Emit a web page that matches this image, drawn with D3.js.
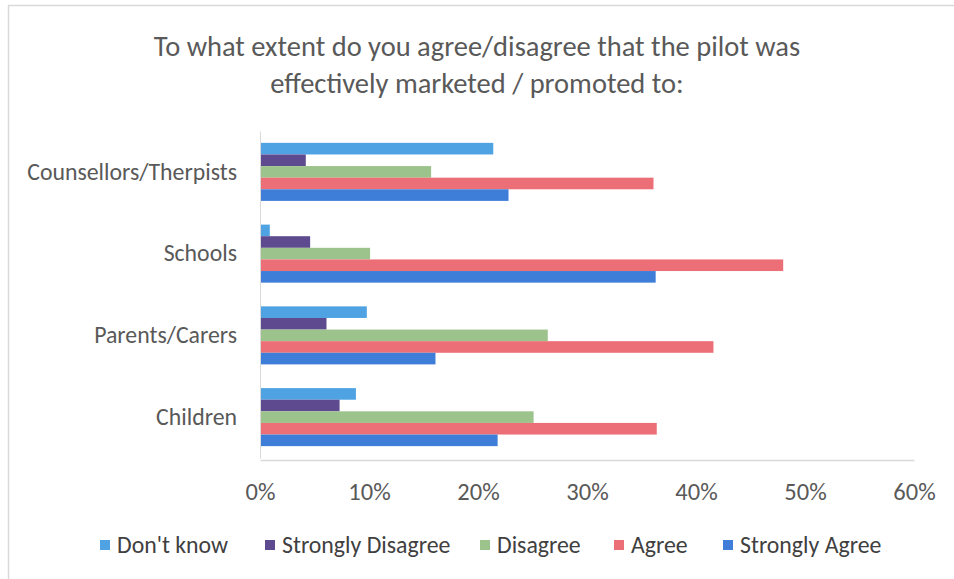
<!DOCTYPE html>
<html>
<head>
<meta charset="utf-8">
<script src="https://cdn.jsdelivr.net/npm/d3@7"></script>
<style>
  html, body { margin: 0; padding: 0; background: #fff; }
  svg { display: block; }
  text { font-family: Carlito, Calibri, "Open Sans", sans-serif; fill: #595959; }
</style>
</head>
<body>
<svg id="chart" width="954" height="579"></svg>
<script>
// Survey responses, share of respondents per answer
const categories = ["Counsellors/Therpists", "Schools", "Parents/Carers", "Children"];
const seriesNames = ["Don't know", "Strongly Disagree", "Disagree", "Agree", "Strongly Agree"];
const seriesColors = ["#4FA3E2", "#5E4A8E", "#9CC38C", "#EC6F78", "#3F7ED8"];
const dontKnow        = [21.4, 0.9, 9.8, 8.8];
const stronglyDisagree = [4.2, 4.6, 6.1, 7.3];
const disagree        = [15.7, 10.1, 26.4, 25.1];
const agree           = [36.1, 48.0, 41.6, 36.4];
const stronglyAgree   = [22.8, 36.3, 16.1, 21.8];
const xTicks = [0, 10, 20, 30, 40, 50, 60];
const titleLines = ["To what extent do you agree/disagree that the pilot was",
                    "effectively marketed / promoted to:"];

const seriesValues = [dontKnow, stronglyDisagree, disagree, agree, stronglyAgree];
const rows = [];
categories.forEach((c, i) => {
  seriesNames.forEach((s, j) => rows.push({ category: c, series: s, value: seriesValues[j][i], color: seriesColors[j] }));
});

const svg = d3.select("#chart");

// chart frame
svg.append("line").attr("x1", 8).attr("x2", 954).attr("y1", 5.5).attr("y2", 5.5)
  .attr("stroke", "#d9d9d9").attr("stroke-width", 1.5);
svg.append("line").attr("x1", 8.5).attr("x2", 8.5).attr("y1", 5).attr("y2", 579)
  .attr("stroke", "#d9d9d9").attr("stroke-width", 1.5);

// title
svg.append("text").attr("x", 477).attr("y", 56).attr("text-anchor", "middle")
  .style("font-size", "28.5px").style("fill", "#595959")
  .selectAll("tspan").data(titleLines).join("tspan")
  .attr("x", 477).attr("dy", (d, i) => i === 0 ? 0 : 37).text(d => d);

const plotLeft = 260, plotRight = 914, plotTop = 131, plotBottom = 458;

const x = d3.scaleLinear().domain([0, 60]).range([plotLeft, plotRight]);
const y = d3.scaleBand().domain(categories).range([plotTop, plotBottom])
  .paddingInner(0.29).paddingOuter(0.145);
const ySeries = d3.scaleBand().domain(seriesNames).range([0, y.bandwidth()]);

// bars
svg.append("g").selectAll("rect").data(rows).join("rect")
  .attr("x", x(0))
  .attr("y", d => y(d.category) + ySeries(d.series))
  .attr("width", d => x(d.value) - x(0))
  .attr("height", ySeries.bandwidth())
  .attr("fill", d => d.color);

// value axis
const xAxis = svg.append("g").attr("transform", `translate(0,${plotBottom + 2})`)
  .call(d3.axisBottom(x).tickValues(xTicks).tickFormat(d => d + "%").tickSize(0).tickPadding(23));
xAxis.select(".domain").attr("stroke", "#d9d9d9").attr("stroke-width", 1.5);
xAxis.selectAll("text").style("font-size", "24.5px").style("fill", "#595959");

// category axis
const yAxis = svg.append("g").attr("transform", `translate(${plotLeft},0)`)
  .call(d3.axisLeft(y).tickSize(0).tickPadding(23));
yAxis.select(".domain").attr("stroke", "#d9d9d9").attr("stroke-width", 1);
yAxis.selectAll("text").style("font-size", "23.8px").style("fill", "#595959");

// legend
const legendX = [100, 265, 480, 614, 723];
const legend = svg.append("g").selectAll("g").data(seriesNames).join("g")
  .attr("transform", (d, i) => `translate(${legendX[i]},545)`);
legend.append("rect").attr("x", 0).attr("y", -5).attr("width", 10).attr("height", 10)
  .attr("fill", (d, i) => seriesColors[i]);
legend.append("text").attr("x", 17).attr("y", 8).style("font-size", "23.8px")
  .style("fill", "#404040").text(d => d);
</script>
</body>
</html>
